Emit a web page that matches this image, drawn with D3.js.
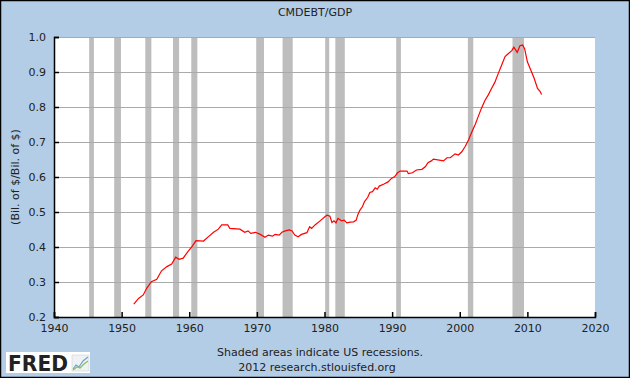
<!DOCTYPE html>
<html>
<head>
  <meta charset="utf-8">
  <title>CMDEBT/GDP</title>
  <script src="https://d3js.org/d3.v7.min.js"></script>
  <style>
    body { margin: 0; }
    text { font-family: "DejaVu Sans", Verdana, sans-serif; fill: #222; }
  </style>
</head>
<body>
<script>
  // Data
  var years = [1951.8, 1952.5, 1953.2, 1953.7, 1954.4, 1955.2, 1955.9, 1956.7, 1957.4, 1958.0,
               1958.5, 1959.1, 1959.8, 1960.4, 1961.0, 1962.1, 1962.8, 1963.6, 1964.3, 1964.8,
               1965.7, 1966.0, 1967.5, 1968.2, 1968.7, 1969.1, 1969.8, 1970.5, 1971.2, 1971.7,
               1972.3, 1972.7, 1973.3, 1973.7, 1974.2, 1974.8, 1975.2, 1975.6, 1976.1, 1976.6,
               1977.4, 1977.8, 1978.1, 1978.6, 1979.3, 1980.1, 1980.4, 1980.8, 1981.1, 1981.4,
               1981.7, 1982.0, 1982.5, 1982.9, 1983.3, 1983.8, 1984.3, 1984.7, 1984.9, 1985.2,
               1985.6, 1985.9, 1986.4, 1986.7, 1987.1, 1987.5, 1987.8, 1988.1, 1988.8, 1989.4,
               1989.9, 1990.4, 1990.8, 1991.2, 1992.2, 1992.4, 1993.0, 1993.6, 1994.4, 1994.9,
               1995.3, 1995.8, 1996.1, 1997.6, 1998.1, 1998.6, 1999.3, 1999.8, 2000.3, 2000.8,
               2001.3, 2001.8, 2002.3, 2002.7, 2003.2, 2003.7, 2004.2, 2004.7, 2005.2, 2005.7,
               2006.2, 2006.7, 2007.2, 2007.7, 2008.0, 2008.5, 2008.9, 2009.3, 2009.6, 2010.0,
               2010.5, 2011.0, 2011.5, 2011.9, 2012.1];
  var ratio = [0.237, 0.253, 0.263, 0.282, 0.301, 0.308, 0.332, 0.344, 0.351, 0.371,
               0.365, 0.368, 0.387, 0.401, 0.418, 0.417, 0.429, 0.442, 0.451, 0.463,
               0.463, 0.453, 0.451, 0.442, 0.446, 0.439, 0.442, 0.436, 0.428, 0.434,
               0.431, 0.436, 0.434, 0.442, 0.446, 0.449, 0.446, 0.434, 0.429, 0.436,
               0.441, 0.458, 0.453, 0.463, 0.474, 0.487, 0.491, 0.488, 0.470, 0.475,
               0.469, 0.482, 0.475, 0.477, 0.469, 0.471, 0.472, 0.477, 0.491, 0.504,
               0.515, 0.529, 0.542, 0.556, 0.558, 0.569, 0.565, 0.574, 0.580, 0.586,
               0.596, 0.601, 0.612, 0.617, 0.617, 0.610, 0.612, 0.620, 0.622, 0.629,
               0.641, 0.646, 0.651, 0.646, 0.655, 0.655, 0.666, 0.663, 0.672, 0.687,
               0.706, 0.729, 0.751, 0.771, 0.796, 0.818, 0.834, 0.853, 0.871, 0.896,
               0.920, 0.944, 0.953, 0.961, 0.971, 0.956, 0.975, 0.977, 0.966, 0.929,
               0.906, 0.882, 0.853, 0.844, 0.836];

  // recession start / end (decimal years)
  var recStart = [1945.2, 1948.9, 1953.5, 1957.6, 1960.3, 1969.9, 1973.8, 1980.1, 1981.6, 1990.6, 2001.2, 2007.8];
  var recEnd   = [1945.9, 1949.9, 1954.4, 1958.5, 1961.2, 1971.05, 1975.3, 1980.7, 1983.0, 1991.3, 2002.0, 2009.5];

  var xTicks = [1940, 1950, 1960, 1970, 1980, 1990, 2000, 2010, 2020];
  var yTicks = [0.2, 0.3, 0.4, 0.5, 0.6, 0.7, 0.8, 0.9, 1.0];

  var W = 630, H = 378;
  var margin = {top: 37, right: 35, bottom: 61, left: 54};
  var width = W - margin.left - margin.right;
  var height = H - margin.top - margin.bottom;

  var svg = d3.select("body").append("svg")
      .attr("width", W)
      .attr("height", H);

  // background + border
  svg.append("rect")
      .attr("x", 0.5).attr("y", 0.5)
      .attr("width", W - 1).attr("height", H - 1)
      .attr("fill", "#b4cde6")
      .attr("stroke", "#000")
      .attr("stroke-width", 1.5);

  var g = svg.append("g")
      .attr("transform", "translate(" + margin.left + "," + margin.top + ")");

  var x = d3.scaleLinear().domain([1940, 2020]).range([0, width]);
  var y = d3.scaleLinear().domain([0.2, 1.0]).range([height, 0]);

  g.append("rect")
      .attr("width", width).attr("height", height)
      .attr("fill", "#fff");

  // recessions
  g.selectAll(".rec")
      .data(recStart)
      .enter().append("rect")
      .attr("class", "rec")
      .attr("x", function(d) { return x(d); })
      .attr("width", function(d, i) { return x(recEnd[i]) - x(d); })
      .attr("y", 0)
      .attr("height", height)
      .attr("fill", "#bdbdbd");

  // gridlines
  g.selectAll(".grid")
      .data(yTicks.slice(1))
      .enter().append("line")
      .attr("class", "grid")
      .attr("x1", 0).attr("x2", width)
      .attr("y1", function(d) { return Math.round(y(d)) + 0.5; })
      .attr("y2", function(d) { return Math.round(y(d)) + 0.5; })
      .attr("stroke", "#aaa");

  // line
  var pts = years.map(function(d, i) { return [d, ratio[i]]; });
  g.append("path")
      .datum(pts)
      .attr("fill", "none")
      .attr("stroke", "#f00")
      .attr("stroke-width", 1.2)
      .attr("d", d3.line()
        .x(function(d) { return x(d[0]); })
        .y(function(d) { return y(d[1]); }));

  // axes
  var yAxis = g.append("g")
      .call(d3.axisLeft(y).tickValues(yTicks).tickSize(-5).tickPadding(8)
        .tickFormat(d3.format(".1f")));
  var xAxis = g.append("g")
      .attr("transform", "translate(0," + height + ")")
      .call(d3.axisBottom(x).tickValues(xTicks).tickSize(-5).tickPadding(5)
        .tickFormat(d3.format("d")));
  [yAxis, xAxis].forEach(function(a) {
    a.select(".domain").attr("stroke", "#000").attr("stroke-width", 1.5);
    a.selectAll(".tick line").attr("stroke", "#000").attr("stroke-width", 1.5);
    a.selectAll("text").attr("font-size", 11).attr("fill", "#222")
      .attr("font-family", "DejaVu Sans, Verdana, sans-serif");
  });
  xAxis.selectAll("text").attr("dy", "0.9em");

  // titles
  svg.append("text")
      .attr("x", 315).attr("y", 16)
      .attr("text-anchor", "middle")
      .attr("font-size", 11)
      .text("CMDEBT/GDP");

  svg.append("text")
      .attr("transform", "translate(19," + (margin.top + height / 2) + ") rotate(-90)")
      .attr("text-anchor", "middle")
      .attr("font-size", 11)
      .text("(Bil. of $/Bil. of $)");

  svg.append("text")
      .attr("x", 320).attr("y", 356)
      .attr("text-anchor", "middle")
      .attr("font-size", 11)
      .text("Shaded areas indicate US recessions.");
  svg.append("text")
      .attr("x", 317).attr("y", 371)
      .attr("text-anchor", "middle")
      .attr("font-size", 11)
      .text("2012 research.stlouisfed.org");

  // FRED logo
  var logo = svg.append("g").attr("transform", "translate(6,352)");
  logo.append("rect").attr("width", 84).attr("height", 21).attr("fill", "#fff");
  logo.append("text")
      .attr("x", 2).attr("y", 19)
      .attr("font-size", 21)
      .attr("font-weight", "bold")
      .attr("font-family", "Liberation Sans, Arial, sans-serif")
      .attr("fill", "#111")
      .attr("textLength", 60)
      .attr("lengthAdjust", "spacingAndGlyphs")
      .text("FRED");
  logo.append("rect").attr("x", 66).attr("y", 3).attr("width", 17).attr("height", 16)
      .attr("fill", "#eef2f4").attr("stroke", "#ccc").attr("stroke-width", 0.5);
  logo.append("path").attr("d", "M67,17 L70,13 L73,15 L77,9 L82,5")
      .attr("fill", "none").attr("stroke", "#6fa3c8").attr("stroke-width", 1.2);
  logo.append("path").attr("d", "M67,18 L71,15 L74,16 L78,12 L82,9")
      .attr("fill", "none").attr("stroke", "#8cbf5a").attr("stroke-width", 1.2);
</script>
</body>
</html>
